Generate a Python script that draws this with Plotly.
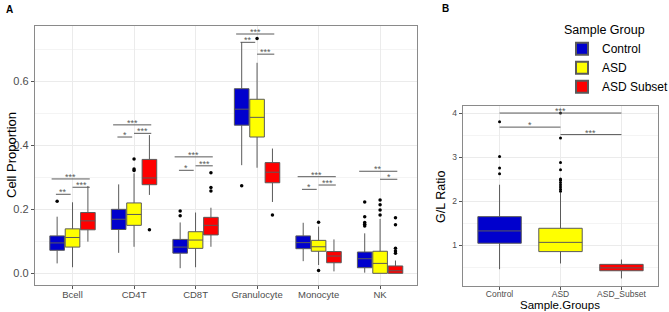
import plotly.graph_objects as go

# ---------------- data ----------------
CATEGORIES = ["Bcell", "CD4T", "CD8T", "Granulocyte", "Monocyte", "NK"]
GROUPS = ["Control", "ASD", "ASD Subset"]

# Panel A box statistics, one value per cell type
CTRL_Q1 = [0.072, 0.137, 0.063, 0.463, 0.077, 0.0175]
CTRL_MED = [0.095, 0.169, 0.082, 0.513, 0.096, 0.0456]
CTRL_Q3 = [0.117, 0.200, 0.106, 0.577, 0.117, 0.0666]
CTRL_LO = [0.031, 0.064, 0.016, 0.338, 0.038, 0.002]
CTRL_HI = [0.177, 0.278, 0.159, 0.723, 0.158, 0.125]
CTRL_OUT = [[0.225], [], [0.195, 0.180], [0.274], [], [0.223, 0.177, 0.159, 0.153, 0.148]]

ASD_Q1 = [0.082, 0.150, 0.078, 0.426, 0.069, 0.000]
ASD_MED = [0.112, 0.184, 0.104, 0.4875, 0.083, 0.031]
ASD_Q3 = [0.139, 0.220, 0.130, 0.544, 0.103, 0.069]
ASD_LO = [0.019, 0.083, 0.019, 0.330, 0.026, 0.000]
ASD_HI = [0.222, 0.3125, 0.190, 0.658, 0.146, 0.170]
ASD_OUT = [[], [0.357, 0.326, 0.321], [], [0.734], [0.160, 0.009], [0.229, 0.214, 0.198, 0.182]]

SUB_Q1 = [0.136, 0.277, 0.120, 0.283, 0.033, 0.000]
SUB_MED = [0.164, 0.298, 0.150, 0.316, 0.054, 0.008]
SUB_Q3 = [0.190, 0.356, 0.175, 0.346, 0.068, 0.023]
SUB_LO = [0.099, 0.245, 0.083, 0.223, 0.006, 0.000]
SUB_HI = [0.273, 0.432, 0.205, 0.390, 0.106, 0.040]
SUB_OUT = [[], [0.136], [0.314, 0.268, 0.257], [0.182], [], [0.174, 0.152, 0.078, 0.070, 0.0625]]

# Panel A significance brackets: (cell type, group 1, group 2, height, label)
A_BRACKETS = [
    ("Bcell", "Control", "ASD Subset", 0.295, "***"),
    ("Bcell", "Control", "ASD", 0.247, "**"),
    ("Bcell", "ASD", "ASD Subset", 0.269, "***"),
    ("CD4T", "Control", "ASD Subset", 0.464, "***"),
    ("CD4T", "Control", "ASD", 0.426, "*"),
    ("CD4T", "ASD", "ASD Subset", 0.4375, "***"),
    ("CD8T", "Control", "ASD Subset", 0.364, "***"),
    ("CD8T", "Control", "ASD", 0.322, "*"),
    ("CD8T", "ASD", "ASD Subset", 0.336, "***"),
    ("Granulocyte", "Control", "ASD Subset", 0.748, "***"),
    ("Granulocyte", "Control", "ASD", 0.722, "**"),
    ("Granulocyte", "ASD", "ASD Subset", 0.685, "***"),
    ("Monocyte", "Control", "ASD Subset", 0.302, "***"),
    ("Monocyte", "Control", "ASD", 0.2625, "*"),
    ("Monocyte", "ASD", "ASD Subset", 0.276, "***"),
    ("NK", "Control", "ASD Subset", 0.319, "**"),
    ("NK", "ASD", "ASD Subset", 0.294, "*"),
]

# Panel B (G/L ratio)
B_CATS = ["Control", "ASD", "ASD_Subset"]
B_Q1 = [1.04, 0.85, 0.415]
B_MED = [1.32, 1.06, 0.48]
B_Q3 = [1.645, 1.38, 0.56]
B_LO = [0.45, 0.58, 0.24]
B_HI = [2.37, 2.19, 0.67]
B_OUT = [[2.62, 2.75, 3.01, 3.80],
         [2.22, 2.27, 2.32, 2.37, 2.42, 2.47, 2.50, 2.71, 2.875, 3.43, 4.00],
         []]
B_BRACKETS = [
    ("Control", "ASD_Subset", 4.00, "***"),
    ("Control", "ASD", 3.68, "*"),
    ("ASD", "ASD_Subset", 3.51, "***"),
]

# ---------------- styles ----------------
COLORS = {"Control": "#0000CD", "ASD": "#FFFF00", "ASD Subset": "#FF0000"}
B_COLORS = ["#0000CD", "#FFFF00", "#FF0000"]
FONT = "Liberation Sans, Arial, sans-serif"
LINE_COL = "#5a5a5a"
GRID = "#ebebeb"
MINOR_GRID = "#f4f4f4"
BORDER = "#8a8a8a"
TICKTXT = "#4d4d4d"
# bracket spans relative to category centre (style only)
A_SPAN = {("Control", "ASD Subset"): (-0.34, 0.28),
          ("Control", "ASD"): (-0.27, -0.03),
          ("ASD", "ASD Subset"): (0.0, 0.28)}

W, H = 669, 312
def px_x(p): return p / W
def px_y(p): return 1 - p / H

def rows(out):
    # empty outlier rows are passed as [None] so plotly keeps the 2-D shape
    return [r if r else [None] for r in out]

fig = go.Figure()

stats = {
    "Control": (CTRL_Q1, CTRL_MED, CTRL_Q3, CTRL_LO, CTRL_HI, CTRL_OUT),
    "ASD": (ASD_Q1, ASD_MED, ASD_Q3, ASD_LO, ASD_HI, ASD_OUT),
    "ASD Subset": (SUB_Q1, SUB_MED, SUB_Q3, SUB_LO, SUB_HI, SUB_OUT),
}
for g in GROUPS:
    q1, med, q3, lo, hi, out = stats[g]
    fig.add_trace(go.Box(
        name=g, x=CATEGORIES, y=rows(out), q1=q1, median=med, q3=q3,
        lowerfence=lo, upperfence=hi, orientation="v",
        boxpoints="outliers", jitter=0, pointpos=0, whiskerwidth=0,
        fillcolor=COLORS[g], line=dict(color=LINE_COL, width=1),
        marker=dict(color="black", size=3.5, line=dict(width=0)),
        offsetgroup=g, xaxis="x", yaxis="y", showlegend=True,
    ))

for i, c in enumerate(B_CATS):
    fig.add_trace(go.Box(
        name=c, x=[c], y=rows([B_OUT[i]]), q1=[B_Q1[i]], median=[B_MED[i]], q3=[B_Q3[i]],
        lowerfence=[B_LO[i]], upperfence=[B_HI[i]], orientation="v",
        boxpoints="outliers", jitter=0, pointpos=0, whiskerwidth=0,
        fillcolor=B_COLORS[i], line=dict(color=LINE_COL, width=1),
        marker=dict(color="black", size=3, line=dict(width=0)),
        offsetgroup="B", xaxis="x2", yaxis="y2", showlegend=False,
    ))

shapes, annotations = [], []
for cat, g1, g2, yv, lab in A_BRACKETS:
    ci = CATEGORIES.index(cat)
    a, b = A_SPAN[(g1, g2)]
    shapes.append(dict(type="line", xref="x", yref="y", x0=ci + a, x1=ci + b,
                       y0=yv, y1=yv, line=dict(color=LINE_COL, width=1)))
    annotations.append(dict(xref="x", yref="y", x=ci + (a + b) / 2, y=yv, text=lab,
                            showarrow=False, xanchor="center", yanchor="bottom", yshift=-5,
                            font=dict(size=9, color=LINE_COL, family=FONT)))
for g1, g2, yv, lab in B_BRACKETS:
    a, b = B_CATS.index(g1), B_CATS.index(g2)
    shapes.append(dict(type="line", xref="x2", yref="y2", x0=a, x1=b,
                       y0=yv, y1=yv, line=dict(color=LINE_COL, width=1)))
    annotations.append(dict(xref="x2", yref="y2", x=(a + b) / 2, y=yv, text=lab,
                            showarrow=False, xanchor="center", yanchor="bottom", yshift=-5,
                            font=dict(size=9, color=LINE_COL, family=FONT)))

# panel letters and axis titles
annotations += [
    dict(xref="paper", yref="paper", x=px_x(4), y=px_y(2), text="<b>A</b>", showarrow=False,
         xanchor="left", yanchor="top", font=dict(size=10, color="black", family=FONT)),
    dict(xref="paper", yref="paper", x=px_x(440), y=px_y(1), text="<b>B</b>", showarrow=False,
         xanchor="left", yanchor="top", font=dict(size=10, color="black", family=FONT)),
    dict(xref="paper", yref="paper", x=px_x(11), y=px_y(155), text="Cell Proportion",
         textangle=-90, showarrow=False, xanchor="center", yanchor="middle",
         font=dict(size=13, color="black", family=FONT)),
    dict(xref="paper", yref="paper", x=px_x(441), y=px_y(197), text="G/L Ratio",
         textangle=-90, showarrow=False, xanchor="center", yanchor="middle",
         font=dict(size=12.5, color="black", family=FONT)),
    dict(xref="paper", yref="paper", x=px_x(560), y=px_y(305), text="Sample.Groups",
         showarrow=False, xanchor="center", yanchor="middle",
         font=dict(size=11.5, color="black", family=FONT)),
]

axis_common = dict(showgrid=True, gridcolor=GRID, gridwidth=1, showline=True, mirror=True,
                   linecolor=BORDER, linewidth=1.4, ticks="outside", ticklen=3,
                   tickcolor="#555", zeroline=False, automargin=False)

fig.update_layout(
    width=W, height=H, margin=dict(l=0, r=0, t=0, b=0, autoexpand=False),
    paper_bgcolor="white", plot_bgcolor="white",
    font=dict(family=FONT),
    boxmode="group", boxgap=0.25, boxgroupgap=0.05,
    xaxis=dict(domain=[px_x(35), px_x(417)], anchor="y", type="category",
               categoryorder="array", categoryarray=CATEGORIES, ticklabelstandoff=-3,
               range=[-0.61, 5.6], tickfont=dict(size=9.5, color=TICKTXT), **axis_common),
    yaxis=dict(domain=[px_y(285), px_y(26)], anchor="x", range=[-0.0365, 0.773],
               tick0=0, dtick=0.2, tickformat=".1f",
               minor=dict(dtick=0.1, tick0=0, showgrid=True, gridcolor=MINOR_GRID, ticks=""),
               tickfont=dict(size=11, color=TICKTXT), **axis_common),
    xaxis2=dict(domain=[px_x(463), px_x(658)], anchor="y2", type="category",
                categoryorder="array", categoryarray=B_CATS, ticklabelstandoff=-3,
                range=[-0.6, 2.6], tickfont=dict(size=8.5, color=TICKTXT), **axis_common),
    yaxis2=dict(domain=[px_y(286), px_y(106)], anchor="x2", range=[0.068, 4.16],
                tick0=0, dtick=1,
                minor=dict(dtick=0.5, tick0=0, showgrid=True, gridcolor=MINOR_GRID, ticks=""),
                tickfont=dict(size=8.5, color=TICKTXT), **axis_common),
    legend=dict(x=px_x(562), y=px_y(18), xanchor="left", yanchor="top",
                bgcolor="rgba(0,0,0,0)", font=dict(size=12, color="black", family=FONT),
                title=dict(text="Sample Group", font=dict(size=12.5, color="black", family=FONT)),
                tracegroupgap=0, itemsizing="constant", itemwidth=30),
    shapes=shapes, annotations=annotations,
)

fig.write_html("out.html", config={"displayModeBar": False},
               post_script="document.body.style.margin='0';document.body.style.padding='0';")
